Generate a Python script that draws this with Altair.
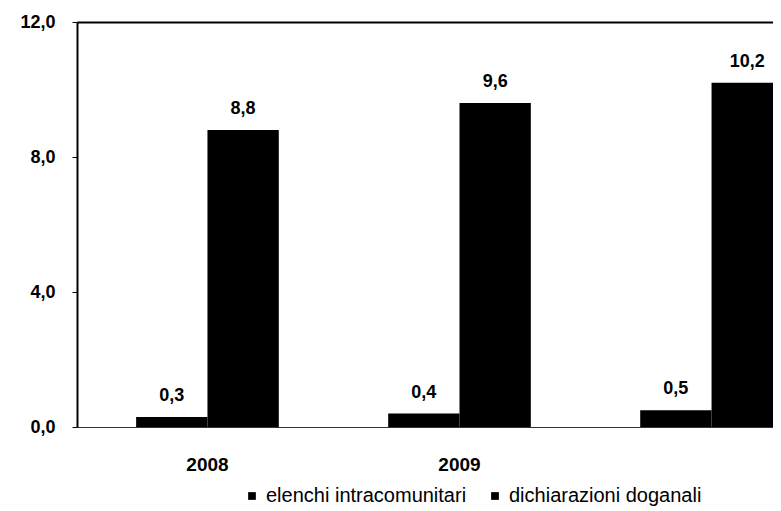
import altair as alt
import pandas as pd

years = ["2008", "2009", "2010"]
year_labels = ["2008", "2009", ""]
series = ["elenchi intracomunitari", "dichiarazioni doganali"]
elenchi = [0.3, 0.4, 0.5]
doganali = [8.8, 9.6, 10.2]
y_ticks = [0, 4, 8, 12]

rows = []
for i, y in enumerate(years):
    rows.append({"anno": y, "serie": series[0], "valore": elenchi[i]})
    rows.append({"anno": y, "serie": series[1], "valore": doganali[i]})
df = pd.DataFrame(rows)
df["label"] = df["valore"].map(lambda v: f"{v:.1f}".replace(".", ","))

label_map = "{" + ",".join(f"'{y}':'{l}'" for y, l in zip(years, year_labels)) + "}"

xenc = alt.X(
    "anno:N",
    sort=years,
    scale=alt.Scale(range=[0, 765], paddingInner=0.434, paddingOuter=0.2346),
    axis=alt.Axis(
        title=None, labelAngle=0, labelExpr=f"{label_map}[datum.value]",
        ticks=False, labelPadding=28, labelFont="Liberation Sans",
        labelFontWeight="bold", labelFontSize=19, labelColor="black",
        domainColor="#333333", domainWidth=1.2,
    ),
)
xoff = alt.XOffset("serie:N", sort=series, scale=alt.Scale(paddingInner=0, paddingOuter=0))
yenc = alt.Y(
    "valore:Q",
    scale=alt.Scale(domain=[0, 12], nice=False),
    axis=alt.Axis(
        title=None, values=y_ticks,
        labelExpr="replace(format(datum.value, '.1f'), '.', ',')",
        labelFont="Liberation Sans", labelFontWeight="bold", labelFontSize=18,
        labelColor="black", labelPadding=17, tickSize=5, tickColor="black",
        domainColor="black", domainWidth=2, grid=True,
        gridColor="black", gridWidth=1.8,
        gridOpacity=alt.condition("datum.value == 12", alt.value(1), alt.value(0)),
    ),
)

base = alt.Chart(df)

bars = base.mark_bar(color="black", clip=True).encode(
    x=xenc,
    xOffset=xoff,
    y=yenc,
    color=alt.Color(
        "serie:N", sort=series,
        scale=alt.Scale(domain=series, range=["black", "black"]),
        legend=alt.Legend(
            title=None, orient="none", direction="horizontal",
            legendX=165, legendY=464, symbolType="square", symbolSize=60,
            labelFont="Liberation Sans", labelFontSize=20, labelLimit=400,
            labelColor="black", columnPadding=18, symbolOffset=0,
        ),
    ),
)

texts = base.mark_text(
    dy=-12, baseline="bottom", font="Liberation Sans", fontWeight="bold",
    fontSize=18, color="black", clip=True,
).encode(
    x=alt.X("anno:N", sort=years),
    xOffset=alt.XOffset("serie:N", sort=series),
    y="valore:Q",
    text="label:N",
)

chart = (
    alt.layer(bars, texts)
    .properties(
        width=696, height=405,
        autosize=alt.AutoSizeParams(type="none"),
        padding={"left": 69, "top": 14, "right": 0, "bottom": 80},
        background="white",
    )
    .configure_view(stroke=None)
)

chart.save("out.html", embed_options={"renderer": "svg", "actions": False})
